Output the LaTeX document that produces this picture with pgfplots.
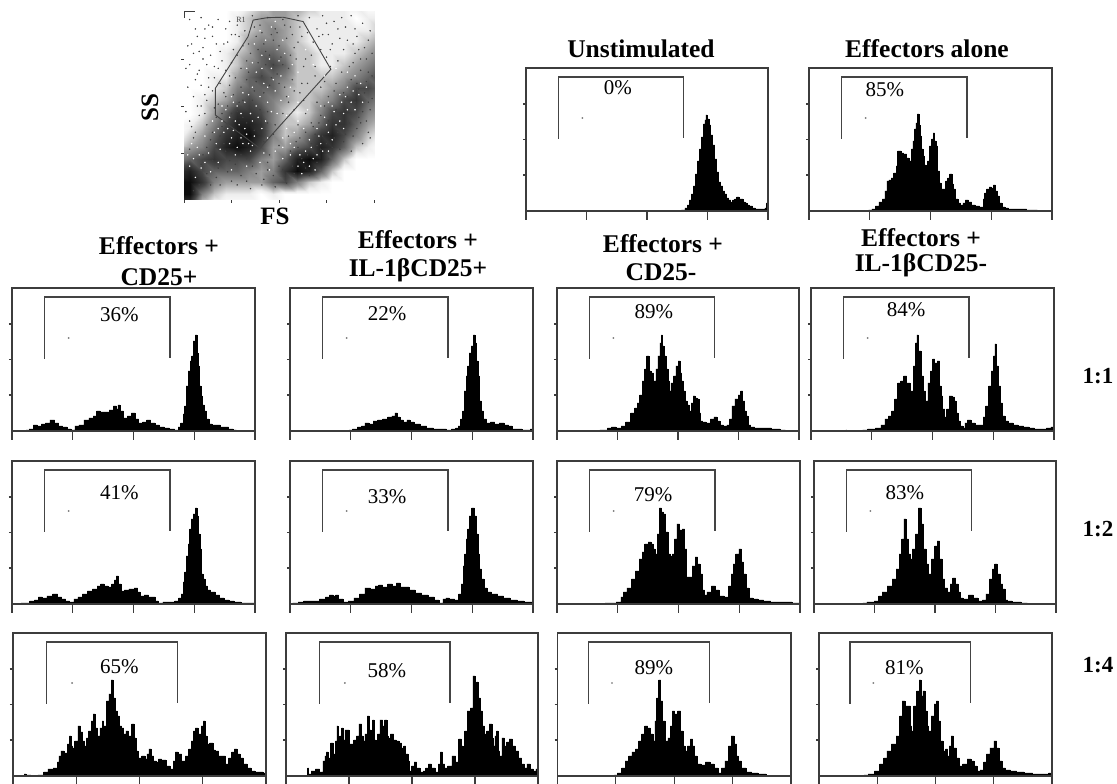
\documentclass[border=0pt]{standalone}
\usepackage{fontspec}
\setmainfont{Liberation Serif}
\usepackage{pgfplots}
\pgfplotsset{compat=1.18}

\definecolor{frame}{HTML}{3C3C3C}
\definecolor{gatec}{HTML}{444444}

\pgfplotsset{
  hist/.style={
    scale only axis, height=143pt,
    xmin=0, xmax=240, ymin=0, ymax=143,
    xtick={0,60,120,180,240}, ytick={36,71.5,107},
    xticklabels={}, yticklabels={},
    tick align=outside, xtick pos=bottom, ytick pos=left,
    xtick style={/pgfplots/major tick length=9pt, line width=1.1pt, color=frame},
    ytick style={/pgfplots/major tick length=3pt, line width=1.1pt, color=frame},
    axis line style={line width=1.5pt, color=frame},
    axis on top,
  },
  bars/.style={const plot mark mid, fill=black, draw=black, line width=0.5pt, line join=miter},
}

% gate bracket, its dot and the percent label
\newcommand{\gate}[3]{%
  \addplot[gatec, line width=1.4pt] coordinates {(32,72) (32,134) (156,134) (156,73)};
  \addplot[only marks, mark=*, mark size=0.7pt, color=gray] coordinates {(56,93)};
  \node[font=\fontsize{21}{23}\selectfont] at (axis cs:#2,#3) {#1\%};
}
\newcommand{\ttl}[3]{\node[font=\fontsize{25.5}{28}\selectfont\bfseries] at (#1pt,#2pt) {#3};}

\begin{document}
\begin{tikzpicture}[x=1pt,y=1pt]
\useasboundingbox (0,0) rectangle (1117,784);
\fill[white] (0,0) rectangle (1117,784);

% scatter panel, density read on a 17x17 grid, bottom row first
\begin{axis}[
  at={(184pt,584pt)}, scale only axis, width=190pt, height=188pt,
  xmin=0, xmax=100, ymin=0, ymax=100,
  xtick={0,25,50,75,100}, ytick={25,50,75},
  xticklabels={}, yticklabels={},
  tick align=outside, xtick pos=bottom, ytick pos=left,
  major tick length=3pt,
  tick style={line width=0.8pt, color=frame},
  axis line style={line width=1pt, color=frame},
  colormap={den}{gray(0cm)=(1); gray(1cm)=(0.93); gray(3cm)=(0.62); gray(6cm)=(0.28); gray(9cm)=(0.05)},
  point meta min=0, point meta max=9,
]
\addplot[matrix plot*, shader=interp, mesh/cols=17, point meta=explicit]
  table[row sep=\\, header=false, meta index=0,
        x expr={mod(\coordindex,17)*6.25}, y expr={floor(\coordindex/17)*6.25}] {
9\\6\\1\\0\\0\\0\\0\\0\\0\\0\\0\\0\\0\\0\\0\\0\\0\\
9\\9\\4\\2\\1\\1\\1\\0\\1\\0\\0\\0\\0\\0\\0\\0\\0\\
9\\9\\7\\4\\3\\3\\3\\3\\5\\6\\4\\2\\1\\0\\0\\0\\0\\
7\\8\\6\\5\\5\\5\\4\\3\\4\\7\\9\\8\\5\\2\\0\\0\\0\\
4\\5\\6\\7\\6\\6\\6\\4\\3\\5\\8\\9\\8\\5\\2\\0\\0\\
2\\3\\4\\6\\8\\9\\8\\6\\3\\3\\5\\6\\8\\7\\5\\2\\1\\
1\\2\\3\\5\\7\\8\\9\\7\\4\\2\\3\\5\\7\\8\\6\\4\\2\\
0\\1\\2\\4\\6\\8\\8\\7\\4\\2\\2\\3\\5\\7\\7\\5\\3\\
0\\0\\1\\3\\5\\7\\7\\6\\4\\2\\1\\2\\4\\6\\7\\6\\4\\
0\\0\\1\\2\\3\\5\\6\\5\\4\\3\\2\\2\\3\\4\\6\\7\\5\\
0\\0\\0\\1\\2\\4\\5\\5\\5\\3\\2\\2\\2\\3\\4\\6\\6\\
0\\0\\0\\1\\1\\3\\5\\6\\5\\4\\2\\2\\2\\2\\3\\4\\5\\
0\\0\\0\\0\\1\\2\\4\\5\\6\\5\\2\\2\\1\\1\\2\\3\\4\\
0\\0\\0\\0\\1\\2\\3\\5\\5\\4\\2\\2\\1\\1\\1\\2\\3\\
0\\0\\0\\0\\0\\1\\3\\4\\4\\3\\2\\1\\1\\1\\1\\1\\2\\
0\\0\\0\\0\\0\\1\\2\\3\\4\\3\\2\\1\\1\\1\\1\\1\\1\\
0\\0\\0\\0\\0\\1\\2\\3\\3\\3\\2\\1\\1\\1\\1\\0\\1\\
};
% dark specks
\addplot[only marks, mark=*, mark size=0.5pt, color=black!75] coordinates {
(3,96)(6,91)(9,97)(13,93)(15,87)(18,96)(22,91)(24,95)(27,88)(4,83)(8,79)(11,86)(14,77)(17,83)(20,74)(23,84)(26,80)(29,87)
(3,72)(7,67)(10,75)(13,65)(16,71)(19,62)(22,69)(25,73)(28,77)(31,82)(2,60)(5,55)(9,61)(12,53)(15,58)(18,51)(21,57)(24,61)(27,65)(30,70)(33,74)
(66,97)(70,91)(73,98)(76,88)(79,95)(82,86)(85,92)(88,98)(91,87)(94,94)(97,85)(68,84)(72,80)(75,76)(78,83)(81,74)(84,80)(87,71)(90,78)(93,69)(96,75)(98,90)
(28,8)(35,6)(42,11)(48,7)(53,13)(58,14)(64,17)(70,20)(76,22)(82,27)(88,26)(94,30)(98,33)(38,14)(44,16)(50,18)(72,27)(79,33)(85,35)(91,38)(96,42)
(36,98)(40,93)(44,97)(48,91)(52,96)(56,92)(60,98)(38,87)(42,83)(46,88)(50,82)(54,86)(58,81)(62,87)(35,78)(39,73)(43,79)(47,72)(51,76)(55,70)(59,75)(63,71)(67,77)
(33,64)(37,58)(41,66)(45,61)(49,67)(53,60)(57,64)(61,57)(65,62)(69,66)(72,60)(76,55)(80,62)(84,57)(88,64)(92,59)(96,63)(99,54)
(8,45)(12,40)(6,36)(14,32)(20,46)(24,41)(19,34)(27,37)(31,44)(35,49)(40,43)(44,47)(48,40)(10,24)(15,21)(22,26)(27,19)(33,22)(39,28)(45,24)(50,29)
(55,34)(60,40)(64,46)(58,48)(68,39)(72,45)(76,42)(80,48)(84,50)(88,46)(92,44)(70,52)(63,53)(55,52)(17,12)(23,15)(30,13)(12,14)(8,8)(5,5)
(11,91)(5,78)(19,79)(28,93)(32,90)(8,69)(16,65)(21,83)(34,83)(30,60)(26,56)(12,72)(7,50)(23,50)(3,42)(5,33)(11,56)(1,47)(17,44)(29,52)
(37,92)(41,89)(47,85)(43,72)(49,89)(53,93)(57,88)(61,92)(65,89)(39,80)(45,77)(52,72)(56,77)(60,84)(64,75)(69,71)(34,68)(38,63)(42,57)(46,65)(50,62)(54,55)(58,58)(62,62)
(71,87)(75,94)(83,97)(89,83)(95,81)(99,78)(77,71)(83,68)(89,73)(92,80)(97,68)(74,63)(79,58)(86,55)(91,62)(95,57)(98,48)(82,44)(87,41)(93,41)(97,36)(89,34)(84,31)(78,28)(73,34)(67,30)(62,22)(57,18)(66,13)(54,9)(47,13)(41,8)(33,10)(25,10)
(20,39)(25,46)(29,36)(33,41)(37,37)(42,31)(47,35)(16,49)(22,55)(28,47)(31,53)(36,53)(40,48)(44,41)(52,46)(61,33)(69,35)(75,30)(81,36)(86,42)(90,52)(94,47)(74,50)(79,44)(71,41)
(19,8)(36,18)(30,24)(24,21)(18,17)(14,8)(21,30)(12,28)(9,19)(44,20)(52,16)(56,26)(59,31)(65,24)(70,29)(64,36)(60,28)(67,41)(99,66)(97,52)(93,75)(90,91)(86,85)(81,91)(77,80)(73,88)
(10,81)(15,92)(25,88)(7,87)(2,82)(18,70)(24,66)(6,64)(1,70)(13,60)(9,50)(15,36)(3,27)(4,39)(11,46)
};
% light specks in the dense clouds
\addplot[only marks, mark=*, mark size=0.5pt, color=white] coordinates {
(3,18)(6,12)(9,17)(13,25)(17,30)(21,36)(25,33)(29,40)(33,35)(36,29)(22,48)(26,52)(30,46)(34,56)(38,50)(41,38)(44,33)
(15,42)(19,27)(11,34)(27,24)(31,30)(36,42)(24,44)(40,55)(42,62)(46,70)(50,74)(48,58)(44,52)(38,68)(41,77)(52,85)(46,92)(37,83)
(56,24)(60,18)(64,26)(68,22)(72,30)(76,36)(80,40)(84,46)(88,52)(92,56)(70,38)(66,32)(62,14)(74,44)(78,50)(82,56)(86,60)(90,66)(94,52)(96,60)
(54,45)(58,36)(52,28)(49,46)(56,60)(60,68)(64,80)(68,72)(74,66)(80,70)(86,68)(90,48)(76,26)(69,16)(84,38)
(7,28)(4,30)(18,20)(25,16)(33,18)(40,20)(45,16)(52,22)(58,28)(16,36)(28,28)(35,26)
(23,38)(27,42)(32,38)(35,46)(39,44)(30,33)(26,37)(20,42)(18,38)(24,30)(34,30)(37,34)(43,42)(28,50)(32,52)(36,60)(31,57)(25,55)(20,50)
(44,60)(47,64)(41,70)(45,75)(49,80)(43,85)(48,95)(53,78)(57,72)(40,90)(36,73)(33,70)(51,66)(55,55)(51,53)(46,47)
(63,20)(66,18)(70,24)(73,26)(67,28)(61,24)(78,32)(75,40)(71,34)(82,42)(86,48)(83,52)(79,47)(89,58)(93,62)(85,55)(76,52)(72,50)
(56,30)(54,38)(60,42)(63,38)(65,48)(60,52)(52,33)(48,26)(42,25)(5,22)(8,24)(2,24)(11,20)(14,15)
};
% region R1
\addplot[color=gatec, line width=0.9pt] coordinates {
(36.4,95.7)(44,97)(52.2,97.2)(62.7,94.9)(77.3,69.5)(50.4,39.4)(39.9,27.5)(16.5,45.2)(16.5,59.4)(33.7,86.9)(36.4,95.7)};
\node[font=\fontsize{8}{9}\selectfont, color=gatec] at (axis cs:30,95.6) {R1};
\end{axis}
\node[font=\fontsize{25}{27}\selectfont\bfseries, rotate=90] at (150,676) {SS};
\node[font=\fontsize{25}{27}\selectfont\bfseries] at (275,568) {FS};

% top row
\begin{axis}[hist, at={(526pt,573pt)}, width=242pt]
\addplot[bars] coordinates {(152,0)(156,1)(159,3)(161,6)(163,11)(165,17)(167,25)(169,37)(171,50)(173,62)(175,74)(177,87)(178,91)(179,96)(180,92)(181,92)(182,86)(184,76)(186,66)(188,52)(190,39)(192,29)(194,25)(196,20)(198,17)(200,13)(202,11)(204,9)(206,11)(208,12)(210,14)(212,12)(214,12)(216,9)(218,8)(220,6)(223,5)(226,3)(229,2)(232,2)(236,2)(238,3)(239,8)(240,0)} \closedcycle;
\gate{0}{91}{123}
\end{axis}
\begin{axis}[hist, at={(809pt,573pt)}, width=243pt]
\addplot[bars] coordinates {(58,0)(60,1)(64,2)(67,5)(71,9)(74,12)(76,20)(78,30)(80,31)(82,33)(85,38)(87,45)(88,60)(90,60)(92,58)(95,57)(98,53)(100,50)(102,62)(103,70)(105,82)(106,88)(108,97)(109,86)(110,75)(112,62)(113,55)(115,46)(116,42)(118,50)(120,65)(122,72)(123,78)(125,70)(126,65)(128,40)(130,28)(131,22)(134,22)(136,30)(138,33)(140,37)(142,27)(143,22)(146,12)(148,8)(151,6)(153,8)(156,11)(159,9)(162,6)(166,5)(171,4)(173,12)(174,18)(177,22)(179,24)(181,23)(183,26)(185,20)(187,15)(189,8)(192,4)(195,3)(199,2)(205,2)(212,2)(218,1)(225,1)(226,0)} \closedcycle;
\gate{85}{75}{121}
\end{axis}

% row 1:1
\begin{axis}[hist, at={(12pt,353pt)}, width=243pt]
\addplot[bars] coordinates {(13,0)(15,1)(19,2)(23,6)(27,5)(31,7)(35,8)(40,11)(44,8)(48,5)(52,4)(57,2)(60,1)(64,5)(68,6)(74,11)(78,13)(82,15)(85,20)(89,19)(94,19)(98,21)(102,25)(104,22)(105,26)(108,20)(112,13)(116,15)(120,18)(123,12)(127,8)(131,9)(135,11)(139,8)(143,6)(148,4)(153,3)(158,2)(163,1)(165,4)(168,8)(170,17)(171,25)(173,45)(175,60)(177,70)(178,75)(180,90)(182,96)(183,78)(184,65)(186,45)(187,35)(189,26)(191,20)(193,12)(196,7)(199,6)(203,6)(208,4)(212,4)(216,2)(221,1)(222,0)} \closedcycle;
\gate{36}{106}{116}
\end{axis}
\begin{axis}[hist, at={(290pt,353pt)}, width=243pt]
\addplot[bars] coordinates {(58,0)(59,1)(64,2)(69,4)(72,5)(76,8)(80,7)(84,10)(89,11)(94,12)(99,14)(102,15)(105,18)(107,14)(110,11)(114,9)(117,11)(120,9)(125,7)(132,5)(138,3)(145,2)(152,2)(157,1)(162,2)(165,3)(167,5)(170,12)(171,20)(173,40)(175,55)(176,65)(178,78)(180,85)(182,96)(183,88)(185,70)(186,55)(188,30)(190,20)(192,12)(196,8)(200,9)(204,7)(209,8)(214,6)(218,5)(221,2)(226,2)(232,1)(236,1)(239,2)(240,0)} \closedcycle;
\gate{22}{96}{117}
\end{axis}
\begin{axis}[hist, at={(557pt,353pt)}, width=242pt]
\addplot[bars] coordinates {(42,0)(43,1)(48,1)(52,3)(56,4)(61,3)(66,5)(70,9)(76,18)(78,23)(81,28)(83,36)(86,50)(88,62)(90,75)(92,60)(94,58)(97,50)(99,62)(101,75)(103,88)(104,96)(105,85)(107,75)(109,62)(111,50)(112,40)(114,48)(117,55)(119,65)(121,70)(123,58)(124,50)(126,40)(128,30)(130,26)(132,20)(134,28)(136,35)(138,33)(140,32)(142,18)(143,10)(146,9)(150,8)(154,12)(157,14)(160,10)(163,6)(167,5)(170,6)(172,12)(175,25)(178,32)(181,36)(183,40)(185,30)(187,20)(188,15)(191,6)(193,4)(199,3)(205,3)(209,3)(216,2)(226,1)(227,0)} \closedcycle;
\gate{89}{96}{119}
\end{axis}
\begin{axis}[hist, at={(811pt,353pt)}, width=243pt]
\addplot[bars] coordinates {(34,0)(35,1)(36,0)(50,0)(52,1)(60,2)(67,3)(71,6)(75,12)(78,15)(81,20)(84,32)(87,48)(90,50)(93,55)(96,48)(100,40)(102,65)(104,88)(105,96)(107,80)(110,55)(112,40)(114,30)(117,48)(119,60)(121,72)(123,68)(126,70)(128,45)(129,35)(131,22)(133,14)(135,22)(138,35)(141,34)(142,30)(144,18)(146,10)(149,5)(151,3)(153,8)(156,11)(160,8)(164,6)(169,6)(171,14)(174,25)(177,45)(179,60)(181,75)(182,87)(184,65)(186,45)(188,28)(190,15)(193,10)(197,8)(202,6)(207,5)(213,4)(218,3)(223,2)(230,2)(235,3)(239,4)(240,0)} \closedcycle;
\gate{84}{94}{121}
\end{axis}

% row 1:2
\begin{axis}[hist, at={(12pt,180pt)}, width=243pt]
\addplot[bars] coordinates {(8,0)(10,1)(15,1)(20,3)(24,4)(28,7)(32,6)(37,8)(43,10)(47,7)(51,5)(55,3)(59,2)(63,5)(67,7)(72,10)(77,13)(82,15)(86,18)(89,20)(93,18)(97,17)(100,20)(102,24)(104,28)(106,20)(109,13)(113,14)(118,15)(123,16)(125,12)(128,8)(133,9)(137,7)(140,7)(143,3)(146,1)(152,2)(158,2)(163,3)(166,6)(168,10)(170,22)(171,32)(173,48)(175,60)(176,75)(178,85)(180,90)(182,96)(183,88)(185,70)(186,55)(188,30)(189,25)(192,18)(194,14)(198,12)(203,9)(207,6)(212,4)(217,3)(222,2)(230,1)(239,1)(240,0)} \closedcycle;
\gate{41}{106}{111}
\end{axis}
\begin{axis}[hist, at={(290pt,180pt)}, width=243pt]
\addplot[bars] coordinates {(2,0)(3,1)(6,1)(10,2)(17,3)(25,3)(33,5)(37,7)(41,9)(44,8)(46,9)(50,5)(55,2)(60,3)(66,6)(71,10)(77,16)(82,15)(86,18)(89,19)(94,17)(99,20)(103,18)(107,21)(110,17)(115,17)(120,14)(127,11)(133,9)(140,7)(145,4)(149,1)(153,5)(155,6)(160,5)(165,4)(168,10)(170,20)(172,38)(173,50)(175,65)(176,75)(178,88)(181,96)(183,88)(185,70)(186,50)(188,35)(190,25)(193,16)(196,12)(202,10)(208,8)(214,6)(221,4)(228,3)(234,2)(239,2)(240,0)} \closedcycle;
\gate{33}{96}{107}
\end{axis}
\begin{axis}[hist, at={(557pt,180pt)}, width=243pt]
\addplot[bars] coordinates {(47,0)(48,1)(55,1)(62,2)(64,7)(67,12)(71,16)(76,25)(79,33)(83,45)(85,52)(88,60)(92,62)(94,60)(96,55)(98,50)(100,70)(102,96)(104,92)(106,90)(108,72)(111,50)(113,48)(115,50)(117,65)(120,80)(122,74)(125,75)(127,55)(129,27)(132,27)(135,38)(138,47)(140,40)(142,30)(145,14)(146,9)(150,12)(155,18)(158,14)(162,8)(168,7)(171,18)(173,30)(175,40)(178,50)(181,55)(183,42)(185,30)(188,16)(191,6)(196,5)(201,4)(207,3)(215,2)(225,2)(239,1)(240,0)} \closedcycle;
\gate{79}{95}{109}
\end{axis}
\begin{axis}[hist, at={(814pt,180pt)}, width=242pt]
\addplot[bars] coordinates {(48,0)(49,1)(56,2)(63,3)(65,8)(70,12)(75,18)(80,25)(83,35)(86,50)(88,65)(90,85)(92,65)(95,50)(96,45)(99,55)(102,70)(105,96)(107,80)(110,55)(112,40)(115,30)(118,45)(121,58)(123,63)(126,45)(128,25)(131,16)(134,12)(136,20)(139,26)(142,20)(144,12)(146,6)(150,5)(156,9)(160,6)(165,3)(169,4)(172,10)(176,25)(178,35)(180,40)(183,30)(186,20)(188,15)(191,4)(193,3)(200,2)(211,1)(212,0)} \closedcycle;
\gate{83}{90}{111}
\end{axis}

% row 1:4
\begin{axis}[hist, at={(13pt,8pt)}, width=253pt]
\addplot[bars] coordinates {(10,0)(11,2)(14,1)(20,0)(27,1)(31,4)(35,7)(41,8)(43,14)(44,20)(47,25)(50,23)(53,32)(54,40)(56,30)(57,28)(60,35)(63,50)(65,44)(67,35)(69,30)(70,38)(73,45)(75,55)(77,62)(79,48)(81,40)(84,48)(85,55)(87,50)(90,75)(92,82)(94,96)(96,78)(98,65)(100,60)(102,50)(104,48)(106,42)(108,45)(111,40)(114,52)(116,38)(117,25)(120,18)(124,20)(126,17)(128,22)(130,27)(132,20)(135,15)(137,14)(139,17)(143,16)(147,10)(151,7)(153,15)(155,24)(158,22)(162,15)(165,20)(168,27)(170,35)(172,45)(174,48)(177,42)(180,50)(181,55)(183,40)(185,32)(188,33)(191,26)(193,25)(197,20)(200,20)(203,12)(206,18)(209,24)(211,27)(214,22)(217,18)(220,12)(224,8)(228,5)(231,4)(235,4)(239,3)(240,0)} \closedcycle;
\gate{65}{101}{109}
\end{axis}
\begin{axis}[hist, at={(286pt,8pt)}, width=252pt]
\addplot[bars] coordinates {(20,0)(21,8)(22,2)(26,5)(30,7)(34,4)(36,15)(38,20)(39,24)(41,18)(44,33)(46,22)(48,35)(49,50)(50,38)(52,40)(54,48)(55,36)(57,46)(59,46)(61,32)(63,32)(66,36)(68,40)(71,52)(73,40)(74,35)(76,42)(79,60)(80,46)(82,40)(83,56)(85,36)(86,28)(88,42)(91,56)(93,50)(95,56)(97,40)(98,38)(101,42)(104,36)(106,35)(109,33)(111,28)(113,30)(115,22)(117,15)(118,5)(121,10)(123,14)(126,8)(129,4)(132,5)(134,8)(137,12)(140,8)(144,4)(146,12)(148,24)(150,12)(152,8)(156,10)(160,20)(163,14)(166,37)(168,30)(169,20)(171,45)(174,65)(177,68)(179,100)(181,70)(182,94)(184,78)(186,65)(188,50)(190,42)(192,45)(195,52)(197,38)(198,30)(200,40)(201,45)(203,25)(204,20)(207,38)(209,30)(211,34)(214,37)(217,30)(220,25)(223,18)(226,12)(228,8)(231,12)(234,7)(237,5)(239,7)(240,0)} \closedcycle;
\gate{58}{96}{105}
\end{axis}
\begin{axis}[hist, at={(557.5pt,8pt)}, width=233.5pt]
\addplot[bars] coordinates {(58,0)(59,1)(64,3)(68,8)(71,15)(75,20)(78,24)(82,27)(85,35)(88,42)(91,50)(94,48)(97,42)(99,35)(101,55)(103,78)(105,96)(107,75)(109,55)(112,35)(115,38)(117,50)(119,65)(122,62)(125,65)(128,45)(130,30)(132,25)(135,30)(138,37)(140,30)(142,20)(145,12)(150,11)(154,14)(159,12)(163,8)(167,3)(170,8)(174,15)(177,30)(180,40)(183,32)(185,20)(187,15)(191,8)(196,4)(203,3)(209,2)(214,2)(215,0)} \closedcycle;
\gate{89}{99}{108}
\end{axis}
\begin{axis}[hist, at={(819pt,8pt)}, width=233pt]
\addplot[bars] coordinates {(46,0)(47,1)(54,2)(60,5)(65,12)(68,18)(72,25)(77,32)(82,40)(84,60)(87,75)(90,70)(93,70)(95,50)(96,45)(99,70)(102,85)(104,96)(106,80)(108,85)(110,65)(112,50)(114,45)(117,60)(120,72)(122,75)(124,55)(126,35)(129,25)(132,27)(133,20)(135,30)(137,40)(140,28)(143,18)(146,10)(150,12)(155,17)(158,15)(161,10)(164,5)(168,6)(171,14)(174,22)(178,28)(182,35)(184,28)(187,15)(190,8)(194,6)(200,5)(207,4)(215,3)(225,2)(235,2)(238,3)(239,0)} \closedcycle;
\gate{81}{88}{108}
\end{axis}

\ttl{641}{735}{Unstimulated}
\ttl{927}{735}{Effectors alone}
\ttl{159}{538}{Effectors +}
\ttl{159}{507}{CD25+}
\ttl{418}{544}{Effectors +}
\ttl{418}{514}{IL-1βCD25+}
\ttl{663}{540}{Effectors +}
\ttl{661}{512}{CD25-}
\ttl{921}{546}{Effectors +}
\ttl{921}{519}{IL-1βCD25-}
\node[font=\fontsize{23}{25}\selectfont\bfseries] at (1098,408) {1:1};
\node[font=\fontsize{23}{25}\selectfont\bfseries] at (1098,255) {1:2};
\node[font=\fontsize{23}{25}\selectfont\bfseries] at (1098,119) {1:4};
\end{tikzpicture}
\end{document}
